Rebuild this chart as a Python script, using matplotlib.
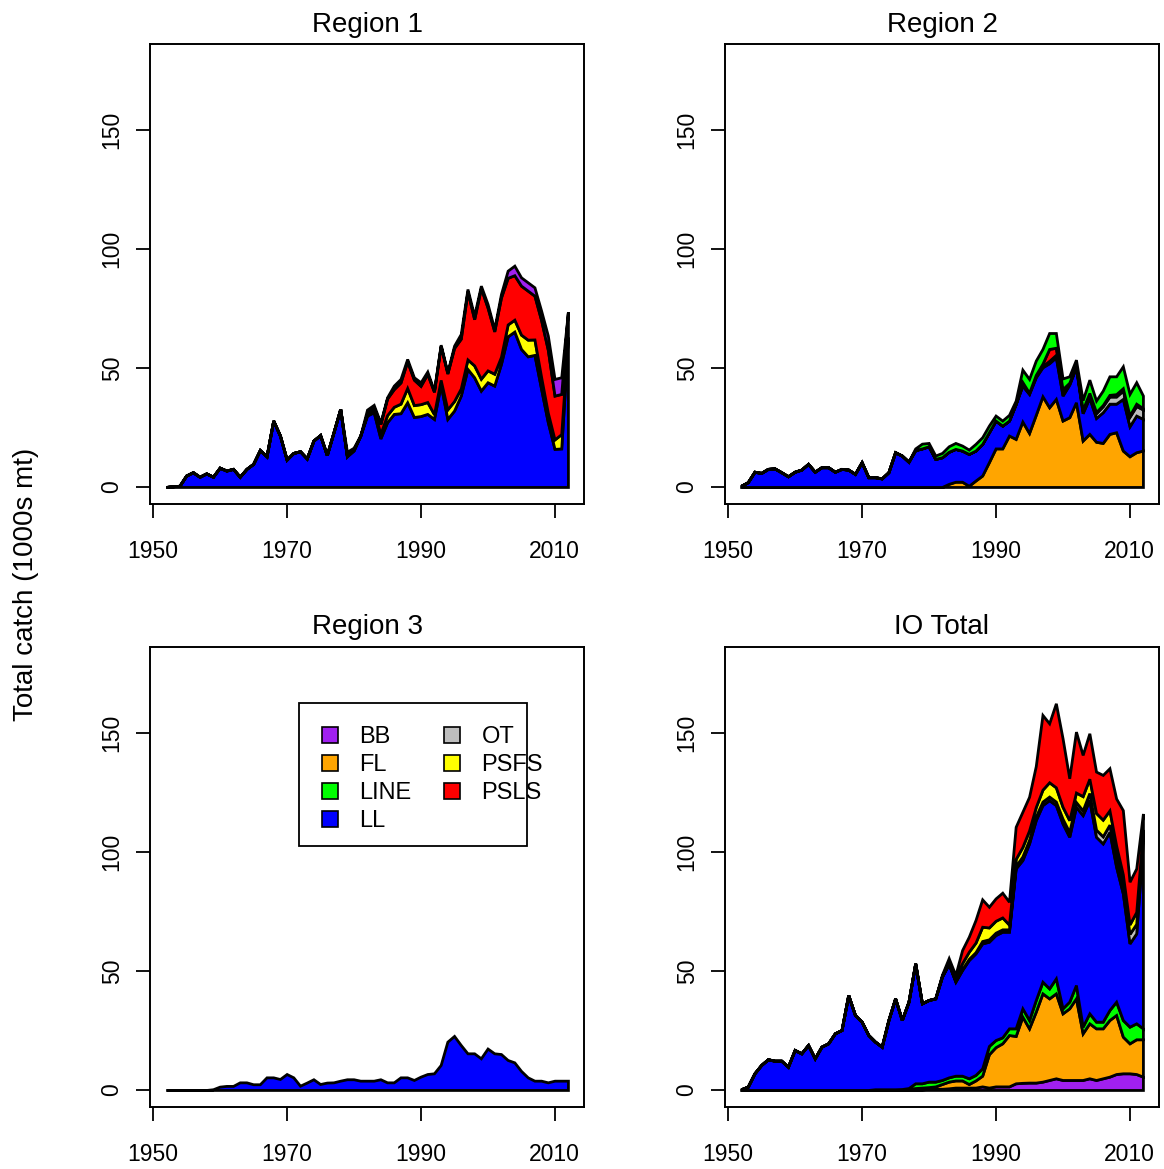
import numpy as np
import matplotlib
matplotlib.use("Agg")
import matplotlib.pyplot as plt
from matplotlib.patches import Patch, Rectangle

plt.rcParams['font.family'] = ['Liberation Sans', 'DejaVu Sans']

years = np.arange(1952, 2013)

gear_colors = {"BB": "#A020F0", "FL": "#FFA500", "LINE": "#00FF00", "LL": "#0000FF",
               "OT": "#BEBEBE", "PSFS": "#FFFF00", "PSLS": "#FF0000"}

# ---- Region 1 (stack: LL, PSFS, PSLS, BB)
r1_LL = [0, 0.3, 0.5, 4.8, 6.2, 4.3, 5.7, 4.3, 8.1, 6.9, 7.6, 4.3, 7.6, 9.7, 15.5, 12.9, 27.9, 21.6, 11.5, 14.3,
         15.0, 12.0, 19.5, 21.8, 13.4, 23.0, 32.8, 12.9, 15.3, 21.6, 30.0, 31.4, 20.4, 27.2, 30.7, 31.0, 35.6, 29.4,
         29.8, 30.7, 28.6, 43.0, 28.6, 32.1, 38.4, 49.6, 46.1, 40.5, 44.0, 42.6, 51.7, 63.3, 65.3, 58.0, 54.9, 55.5,
         41.2, 27.2, 16.0, 16.2, 62.0]
r1_PSFS = [0]*27 + [0, 0.3, 0, 0.5, 1, 2, 3, 3, 4, 6, 5, 5, 5, 2, 2, 4, 4, 3, 4, 5, 5, 5, 5, 3, 5, 5, 6, 7, 6.5,
                    5, 4, 4, 6, 1]
r1_PSLS = [0]*27 + [0, 0.4, 0, 0.5, 1.1, 4.1, 7, 7.4, 8.9, 11.2, 10.7, 7.7, 11.8, 9.4, 14.3, 15.1, 22.3, 20.9,
                    28.6, 19.4, 38.1, 26.4, 17.8, 24.9, 19.6, 18.7, 20.6, 20.6, 18.4, 23.9, 26.4, 18.4, 16.9, 10.7]
r1_BB = [0]*27 + [1.9, 0.5, 0, 1.5, 1, 0.5, 0.5, 1.5, 1.5, 1, 1, 1.5, 1, 0.5, 0.5, 0.5, 1, 2, 1, 1.5, 1, 1.5,
                  1, 1.5, 3, 4, 3.5, 3.5, 3.5, 4, 6, 7, 7, 0]

# ---- Region 2 (stack: FL, LL, OT, PSLS, LINE)
r2_FL = [0]*31 + [1.3, 2.2, 2.2, 0.5, 2.7, 4.8, 10.4, 16.2, 16.2, 21.6, 20.2, 27.5, 22.7, 30.3, 38.1, 33.5, 37.0,
                  27.9, 29.3, 35.6, 19.5, 22.3, 19.0, 18.5, 22.3, 23.0, 15.3, 12.9, 14.6, 15.3]
r2_LL = [0.5, 2, 6.4, 5.9, 7.6, 7.8, 6.2, 4.5, 6.4, 7.3, 9.7, 6.4, 8.3, 8.3, 6.4, 7.6, 7.3, 5.5, 10.4, 4.1,
         4.1, 3.6, 6.2, 14.6, 13.2, 10.6, 15.5, 16.2, 17.1, 11.8, 12.5, 13.5, 13.8, 13.1, 13.4, 12.6, 13.3, 12.6,
         11.7, 9.6, 6.3, 14.7, 15.1, 16.4, 15.8, 12.2, 18.5, 17.5, 10.5, 13.7, 14.7, 11.5, 15.2, 10.0, 12.9, 12.7,
         12.0, 21.7, 12.6, 15.4, 13.3]
r2_OT = [0]*42 + [0.5, 0.5, 0.5, 0.5, 1, 1, 2, 0.5, 0.3, 1, 1.5, 2, 2.5, 3, 3, 3.5, 4, 4, 4]
r2_PSLS = [0]*42 + [1, 0, 0.5, 1, 5, 3, 0.7, 0.3, 0.3, 0.5, 0.5, 0.5, 0.5, 0.7, 1, 1, 0.5, 1, 0.5]
r2_LINE = [0]*26 + [0.7, 2, 1.4, 1.4, 1.8, 2.3, 2.5, 2.1, 1.8, 2.8, 2.8, 2.8, 2.1, 2.1, 2.4, 1.4, 5.2, 5.8, 6,
                    6.2, 6.7, 6.2, 4.5, 2.7, 2.6, 4, 5.6, 4.8, 6.1, 7.8, 7.5, 9.2, 9.1, 9, 5.3]

# ---- Region 3 (LL only)
r3_LL = [0, 0, 0, 0, 0, 0, 0, 0.3, 1.4, 1.7, 1.7, 3.2, 3.2, 2.4, 2.4, 5.3, 5.3, 4.6, 6.7, 5.3, 1.8, 3.1, 4.5,
         2.5, 3.1, 3.2, 3.9, 4.5, 4.5, 3.9, 3.9, 3.9, 4.5, 3.2, 3.2, 5.3, 5.3, 4.2, 5.6, 6.7, 7.0, 10.5, 20.3,
         22.7, 18.9, 15.4, 15.4, 13.3, 17.4, 15.4, 15.1, 12.6, 11.6, 8.0, 5.3, 3.9, 3.9, 3.2, 3.9, 3.9, 3.9]

# ---- IO Total (stack: BB, FL, LINE, LL, OT, PSFS, PSLS)
io_BB = [0]*20 + [0.2, 0.2, 0.2, 0.2, 0.2, 0.3, 0.3, 0.3, 0.4, 0.5, 0.5, 0.7, 1, 1, 1, 1, 1.5, 1, 1.5, 1.5, 1.5,
                  2.8, 3, 3.1, 3.1, 3.5, 4.2, 4.9, 4.2, 4.2, 4.2, 4.2, 4.9, 4.2, 4.9, 5.6, 6.7, 7, 7, 6.7, 5.6]
io_FL = [0]*20 + [0.1, 0.1, 0.1, 0.1, 0.2, 0.2, 0.5, 0.7, 0.8, 1.0, 2.0, 2.8, 3, 3, 1.5, 3, 4.5, 14, 16.5, 18.1,
                  21.6, 19.9, 27.8, 22.8, 29.8, 37.1, 34.3, 35.7, 28, 30.1, 34.3, 19.6, 23.1, 21.7, 21, 23.8, 24.8,
                  15.4, 12.6, 14.6, 15.7]
io_LINE = [0]*25 + [0.3, 2, 1.8, 2.3, 2, 1.7, 1.8, 2, 2, 2.4, 2.3, 3.1, 3.5, 3, 2.5, 2.8, 3.2, 3.5, 3.5, 4.9,
                    4.9, 4.2, 6.3, 2.1, 2.8, 5.6, 2.8, 4.2, 2.8, 2.8, 4.2, 5.6, 7, 7, 6.7, 4.6]
io_LL = [0.3, 1.4, 7, 10.5, 12.9, 12.3, 12.3, 9.8, 16.8, 15.4, 18.9, 13.3, 18.2, 19.6, 23.8, 25.2, 39.9, 31.5,
         28.7, 23.1, 20.0, 17.9, 29.1, 38.2, 29.0, 36.3, 50.4, 33.6, 34.3, 35.0, 43.5, 47.7, 39.5, 44.4, 49.7, 51.1,
         52.5, 43.8, 44.1, 44.4, 40.6, 67.2, 62.3, 74.2, 75.6, 74.2, 79.1, 72.8, 77.7, 69.3, 74.9, 88.9, 89.6, 77.7,
         74.9, 74.9, 56.7, 53.2, 35.0, 37.8, 78.1]
io_OT = [0]*32 + [0.3, 0.4, 0.5, 0.5, 1, 1, 1, 1, 1, 1, 1.5, 1.5, 1.5, 1.5, 1.5, 1.5, 2, 2, 2, 2, 3, 3, 3, 3, 4,
                  4, 4, 4, 4]
io_PSFS = [0]*30 + [0.3, 1, 1.5, 2.5, 3, 4, 6, 5, 5, 5, 2, 3, 4, 4, 4, 5, 6, 6, 5, 5, 4, 6, 6, 7, 7, 6, 5, 4, 4,
                    5, 1.5]
io_PSLS = [0]*30 + [0.5, 1.4, 1.0, 5.5, 6.3, 9.5, 11.5, 8.7, 9.4, 10.4, 9.6, 13.5, 14.8, 14.1, 17.2, 31.4, 24.8,
                    35.3, 28.8, 17.6, 25.6, 17.3, 19.1, 17.4, 18.8, 17.7, 19.7, 27, 17.9, 18.3, 6.7]

panels = [
    ("Region 1", [("LL", r1_LL), ("PSFS", r1_PSFS), ("PSLS", r1_PSLS), ("BB", r1_BB)]),
    ("Region 2", [("FL", r2_FL), ("LL", r2_LL), ("OT", r2_OT), ("PSLS", r2_PSLS), ("LINE", r2_LINE)]),
    ("Region 3", [("LL", r3_LL)]),
    ("IO Total", [("BB", io_BB), ("FL", io_FL), ("LINE", io_LINE), ("LL", io_LL), ("OT", io_OT),
                  ("PSFS", io_PSFS), ("PSLS", io_PSLS)]),
]
legend_gears = ["BB", "FL", "LINE", "LL", "OT", "PSFS", "PSLS"]

fig = plt.figure(figsize=(11.64, 11.69), dpi=100)
W, H = 1164, 1169
boxes = [(150, 44), (725, 44), (150, 647), (725, 647)]  # left, top in pixels
bw, bh = 434, 460

ymax = 179
for (title, stack), (bl, bt) in zip(panels, boxes):
    ax = fig.add_axes([bl / W, 1 - (bt + bh) / H, bw / W, bh / H])
    base = np.zeros(len(years))
    for gear, vals in stack:
        top = base + np.array(vals, dtype=float)
        ax.fill_between(years, base, top, facecolor=gear_colors[gear], edgecolor="black",
                        linewidth=2, joinstyle="miter")
        base = top
    ax.set_xlim(1952 - 2.4, 2012 + 2.4)
    ax.set_ylim(-0.04 * ymax, 1.04 * ymax)
    ax.set_xticks([1950, 1970, 1990, 2010])
    ax.set_yticks([0, 50, 100, 150])
    ax.tick_params(axis="both", direction="out", length=10, width=1.3, labelsize=16.5)
    ax.tick_params(axis="x", pad=16)
    ax.tick_params(axis="y", pad=9, labelrotation=90)
    for lab in ax.get_yticklabels():
        lab.set_va("center")
    for sp in ax.spines.values():
        sp.set_linewidth(1.4)
    ax.set_title(title, fontsize=20, pad=9)
    if title == "Region 3":
        # legend box drawn on its own; labels spill over its right edge as in the original
        ax.add_patch(Rectangle((149 / bw, 1 - 199 / bh), 228 / bw, 143 / bh, transform=ax.transAxes,
                               facecolor="white", edgecolor="black", linewidth=1.3, zorder=4))
        handles = [Patch(facecolor=gear_colors[g], edgecolor="black", linewidth=1.2, label=g)
                   for g in legend_gears]
        leg = ax.legend(handles=handles, ncol=2, loc="upper left", bbox_to_anchor=(172 / bw, 1 - 79 / bh),
                        fontsize=17, frameon=False, borderpad=0, borderaxespad=0,
                        handlelength=0.68, handleheight=0.68, handletextpad=0.9, labelspacing=0.26,
                        columnspacing=1.38)
        leg.set_zorder(5)

fig.text(0.022, 0.5, "Total catch (1000s mt)", rotation=90, fontsize=20, ha="center", va="center")

fig.savefig("out.png", dpi=100)
